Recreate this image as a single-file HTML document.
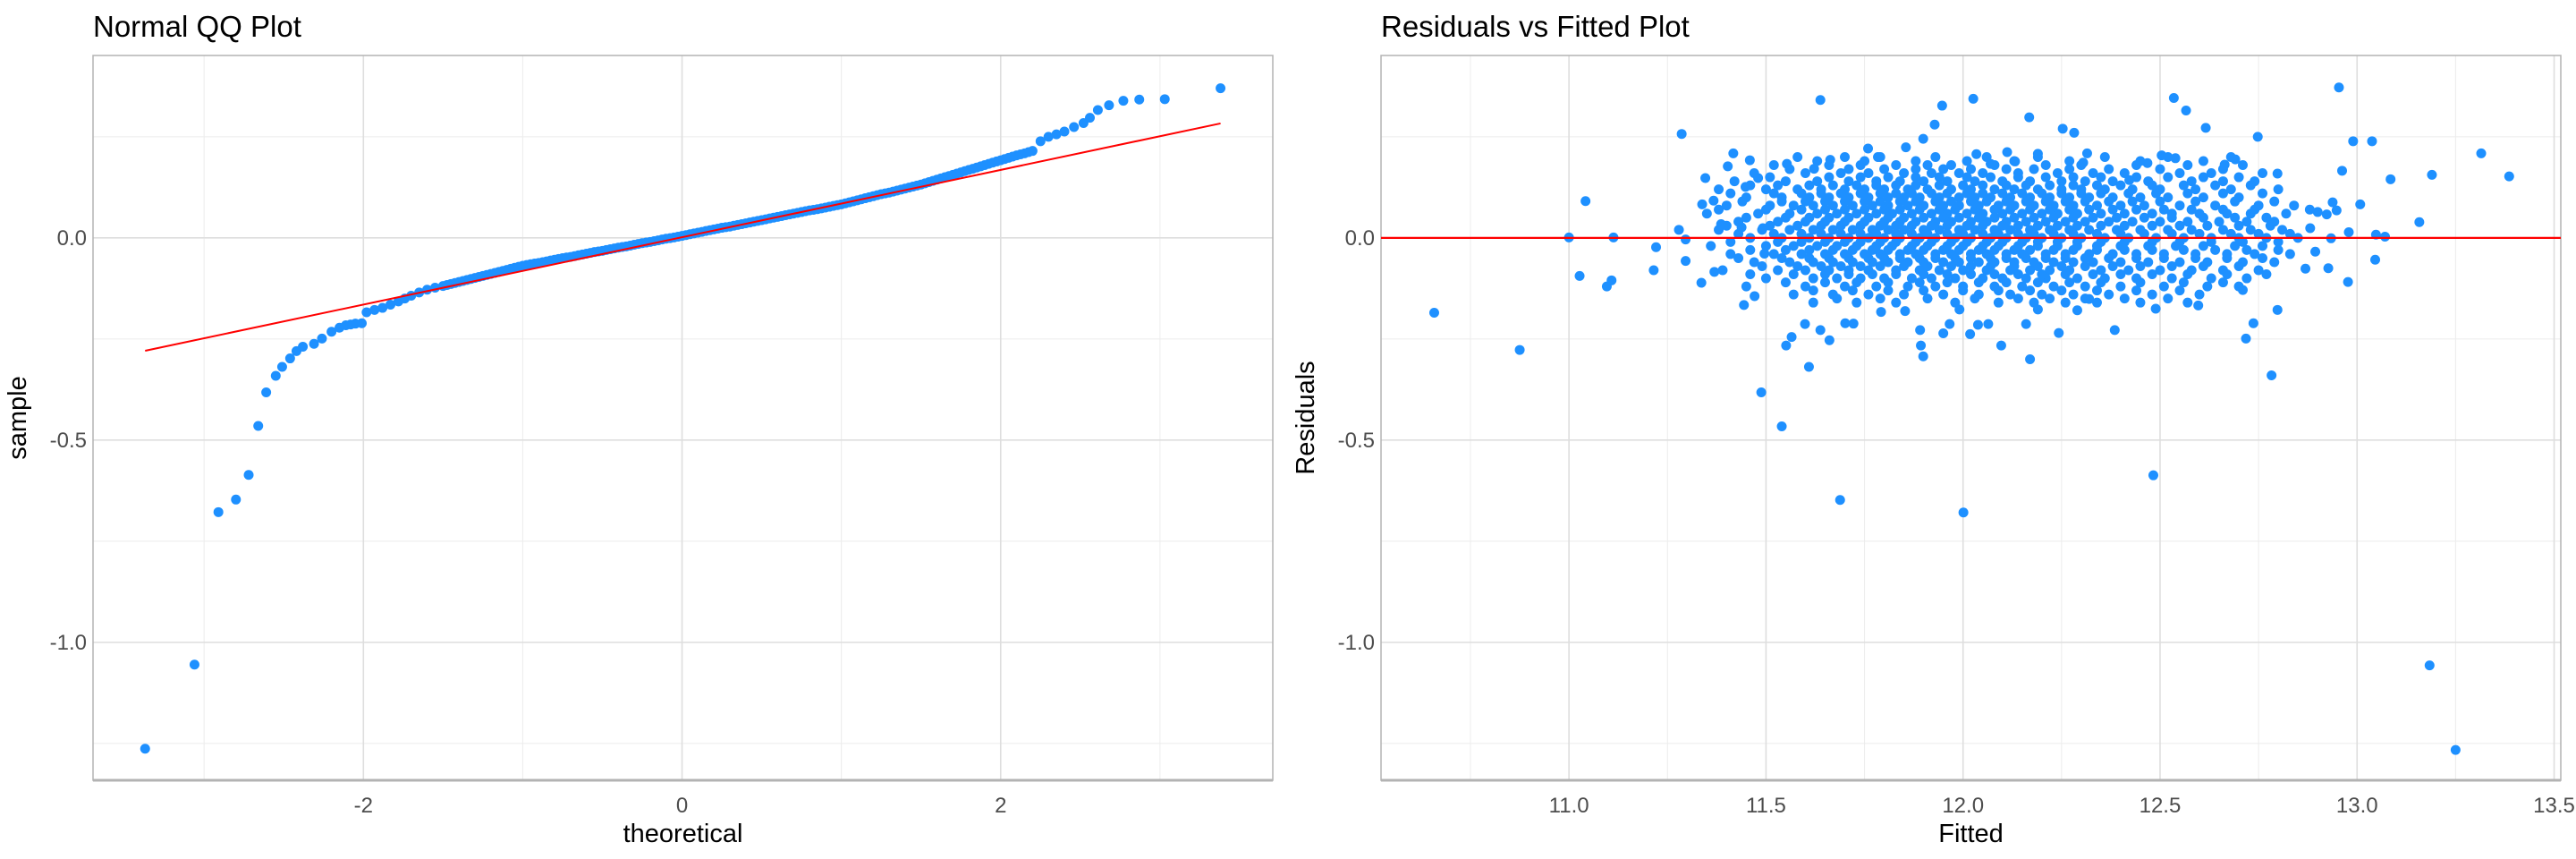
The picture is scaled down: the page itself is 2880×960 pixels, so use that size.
<!DOCTYPE html>
<html><head><meta charset="utf-8"><style>
html,body{margin:0;padding:0;background:#fff;}
svg{display:block;font-family:"Liberation Sans",sans-serif;}
</style></head><body>
<svg id="chart" width="2880" height="960" viewBox="0 0 2880 960" xmlns="http://www.w3.org/2000/svg">
<g id="left"></g>
<g id="right"></g>
</svg>
<script>
// ---- QQ data ----
const qqTheoretical = [-3.37,-3.06,-2.91,-2.80,-2.72,-2.66,-2.61,-2.55,-2.51,-2.46,-2.42,-2.38,-2.31,-2.26,-2.20,-2.15,-2.11,-2.08,-2.05,-2.01,-1.98,-1.93,-1.88,-1.83,-1.78,-1.74,-1.70,-1.65,-1.60,-1.55,
-1.50,-1.45,-1.40,-1.35,-1.30,-1.25,-1.20,-1.15,-1.10,-1.05,-1.00,-0.95,-0.90,-0.85,-0.80,-0.75,-0.70,-0.65,-0.60,-0.55,-0.50,-0.45,-0.40,-0.35,-0.30,-0.25,-0.20,-0.15,-0.10,-0.05,
0.00,0.05,0.10,0.15,0.20,0.25,0.30,0.35,0.40,0.45,0.50,0.55,0.60,0.65,0.70,0.75,0.80,0.85,0.90,0.95,1.00,1.05,1.10,1.15,1.20,1.25,1.30,1.35,1.40,1.45,1.50,1.55,1.60,1.65,1.70,1.75,1.80,1.85,1.90,1.95,2.00,2.05,2.10,2.15,2.20,
2.25,2.30,2.35,2.40,2.46,2.52,2.56,2.61,2.68,2.77,2.87,3.03,3.38];
const qqSample = [-1.263,-1.055,-0.678,-0.647,-0.586,-0.465,-0.382,-0.341,-0.319,-0.298,-0.280,-0.269,-0.262,-0.249,-0.232,-0.222,-0.216,-0.214,-0.212,-0.211,-0.184,-0.178,-0.173,-0.165,-0.157,-0.150,-0.143,-0.135,-0.128,-0.123,
-0.119,-0.114,-0.109,-0.104,-0.099,-0.094,-0.089,-0.084,-0.079,-0.074,-0.069,-0.065,-0.062,-0.058,-0.054,-0.050,-0.047,-0.043,-0.039,-0.035,-0.032,-0.028,-0.024,-0.021,-0.017,-0.013,-0.010,-0.006,-0.002,0.001,
0.005,0.009,0.013,0.017,0.021,0.025,0.028,0.032,0.036,0.040,0.044,0.048,0.052,0.056,0.060,0.064,0.068,0.071,0.075,0.079,0.083,0.088,0.093,0.098,0.103,0.108,0.112,0.117,0.122,0.127,0.132,0.138,0.144,0.150,0.156,0.162,0.168,0.174,0.180,0.186,0.192,0.198,0.204,0.209,0.215,
0.239,0.250,0.256,0.263,0.274,0.284,0.297,0.316,0.328,0.339,0.342,0.343,0.370];
const qqTheoreticalMid = [-1.475,-1.425,-1.375,-1.325,-1.275,-1.225,-1.175,-1.125,-1.075,-1.025,-0.975,-0.925,-0.875,-0.825,-0.775,-0.725,-0.675,-0.625,-0.575,-0.525,-0.475,-0.425,-0.375,-0.325,-0.275,-0.225,-0.175,-0.125,-0.075,-0.025,
0.025,0.075,0.125,0.175,0.225,0.275,0.325,0.375,0.425,0.475,0.525,0.575,0.625,0.675,0.725,0.775,0.825,0.875,0.925,0.975,1.025,1.075,1.125,1.175,1.225,1.275,1.325,1.375,1.425,1.475,1.525,1.575,1.625,1.675,1.725,1.775,1.825,1.875,1.925,1.975,2.025,2.075,2.125,2.175];
const qqSampleMid = [-0.1165,-0.1115,-0.1065,-0.1015,-0.0965,-0.0915,-0.0865,-0.0815,-0.0765,-0.0715,-0.067,-0.0635,-0.060,-0.056,-0.052,-0.0485,-0.045,-0.041,-0.037,-0.0335,-0.030,-0.026,-0.0225,-0.019,-0.015,-0.0115,-0.008,-0.004,-0.0005,0.003,
0.007,0.011,0.015,0.019,0.023,0.0265,0.030,0.034,0.038,0.042,0.046,0.050,0.054,0.058,0.062,0.066,0.0695,0.073,0.077,0.081,0.0855,0.0905,0.0955,0.1005,0.1055,0.110,0.1145,0.1195,0.1245,0.1295,0.135,0.141,0.147,0.153,0.159,0.165,0.171,0.177,0.183,0.189,0.195,0.201,0.2065,0.212];
const qqLineX = [-3.37, 3.38];
const qqLineY = [-0.279, 0.283];
const qqXTicks = [-2, 0, 2];
const qqXTickLabels = ["-2", "0", "2"];
const yTicks = [0, -0.5, -1.0];
const yTickLabels = ["0.0", "-0.5", "-1.0"];

// ---- Residuals data ----
const rvfFitted = [10.658,10.875,11.000,11.027,11.042,11.096,11.108,11.113,11.215,11.221,11.279,11.286,11.296,11.296,11.336,11.338,11.346,11.367,11.369,11.386,11.403,11.417,11.438,11.444,11.448,11.459,11.471,11.480,11.488,11.492,11.496,11.540,11.551,11.553,11.565,11.599,11.609,11.622,11.638,11.638,11.661,11.663,11.688,11.701,11.722,11.759,11.784,11.792,11.855,11.853,11.891,11.893,11.899,11.899,11.928,11.947,11.950,11.966,11.991,12.001,12.018,12.026,12.034,12.038,12.064,12.070,12.097,12.112,12.132,12.160,12.168,12.170,12.190,12.190,12.243,12.253,12.282,12.290,12.305,12.315,12.320,12.385,12.422,12.468,12.483,12.489,12.504,12.535,12.539,12.566,12.597,12.616,12.664,12.691,12.710,12.718,12.737,12.748,12.783,12.798,12.798,12.869,12.881,12.894,12.900,12.923,12.927,12.934,12.938,12.948,12.954,12.962,12.977,12.979,12.990,13.008,13.038,13.046,13.048,13.071,13.085,13.158,13.184,13.190,13.250,13.315,13.386];
const rvfResid = [-0.185,-0.277,0.001,-0.094,0.091,-0.120,-0.105,0.001,-0.080,-0.023,0.020,0.257,-0.004,-0.057,-0.111,0.083,0.148,0.092,-0.084,0.034,0.177,0.209,0.026,-0.166,0.126,0.192,-0.144,0.148,-0.382,0.024,-0.039,-0.466,-0.266,0.183,-0.245,-0.213,-0.319,0.171,0.341,-0.228,-0.253,0.193,-0.648,-0.211,-0.212,0.221,0.200,-0.183,0.224,-0.181,-0.228,-0.266,-0.293,0.245,0.280,0.327,-0.236,-0.213,-0.177,-0.679,-0.238,0.344,0.207,-0.215,-0.213,0.183,-0.266,0.212,0.189,-0.213,0.298,-0.300,0.208,-0.177,-0.235,0.270,0.260,-0.179,0.186,0.209,-0.151,-0.228,0.143,0.185,-0.587,-0.175,0.204,0.346,0.197,0.315,-0.167,0.272,0.181,0.194,-0.129,-0.249,-0.211,0.250,-0.340,-0.178,0.159,-0.076,0.024,-0.034,0.064,0.058,-0.075,-0.001,0.088,0.068,0.372,0.166,-0.109,0.014,0.239,0.083,0.239,-0.054,0.008,0.003,0.145,0.039,-1.057,0.156,-1.266,0.209,0.152];
const cloudResid = [0.20,0.18,0.16,0.14,0.12,0.10,0.08,0.06,0.04,0.02,0.00,-0.02,-0.04,-0.06,-0.08,-0.10,-0.12,-0.14,-0.16];
const cloudFitted = [
[11.58,11.70,11.79,11.93,12.06,12.19,12.36,12.52,12.68],
[11.52,11.66,11.74,11.83,11.91,11.97,12.08,12.21,12.30,12.44,12.57,12.71],
[11.47,11.60,11.69,11.76,11.85,11.92,11.99,12.05,12.14,12.24,12.33,12.41,12.55,12.63,12.76],
[11.42,11.55,11.63,11.71,11.78,11.84,11.90,11.96,12.03,12.10,12.17,12.25,12.31,12.38,12.47,12.58,12.66,12.74],
[11.38,11.50,11.58,11.64,11.70,11.75,11.80,11.86,11.91,11.97,12.02,12.08,12.13,12.19,12.25,12.30,12.36,12.43,12.50,12.59,12.68,12.80],
[11.45,11.54,11.61,11.66,11.71,11.76,11.81,11.85,11.89,11.94,11.99,12.03,12.07,12.12,12.17,12.22,12.27,12.32,12.38,12.45,12.52,12.61,12.70],
[11.40,11.51,11.57,11.62,11.67,11.72,11.77,11.81,11.86,11.90,11.95,11.99,12.04,12.09,12.13,12.18,12.23,12.28,12.34,12.40,12.46,12.55,12.64,12.75,12.84],
[11.35,11.48,11.56,11.63,11.68,11.73,11.78,11.82,11.87,11.92,11.96,12.01,12.05,12.10,12.15,12.20,12.24,12.29,12.35,12.41,12.48,12.53,12.60,12.67,12.73,12.82],
[11.43,11.53,11.60,11.65,11.70,11.75,11.80,11.84,11.88,11.93,11.97,12.02,12.06,12.11,12.16,12.21,12.26,12.31,12.37,12.43,12.50,12.57,12.65,12.72,12.79],
[11.38,11.49,11.56,11.62,11.67,11.72,11.77,11.81,11.85,11.90,11.94,11.99,12.03,12.08,12.12,12.17,12.22,12.27,12.32,12.39,12.45,12.52,12.58,12.66,12.73,12.81],
[11.46,11.54,11.61,11.66,11.71,11.76,11.80,11.84,11.89,11.93,11.98,12.02,12.07,12.11,12.16,12.20,12.25,12.30,12.36,12.42,12.49,12.56,12.63,12.70,12.77,12.85],
[11.36,11.50,11.57,11.63,11.68,11.73,11.78,11.82,11.87,11.91,11.96,12.00,12.05,12.09,12.14,12.19,12.24,12.29,12.34,12.40,12.47,12.54,12.61,12.69,12.76],
[11.41,11.52,11.59,11.65,11.70,11.75,11.79,11.84,11.88,11.93,11.97,12.02,12.06,12.11,12.15,12.21,12.26,12.32,12.38,12.44,12.51,12.59,12.67,12.74,12.83],
[11.47,11.56,11.62,11.67,11.72,11.77,11.81,11.86,11.90,11.95,11.99,12.04,12.08,12.13,12.18,12.23,12.28,12.33,12.40,12.47,12.55,12.62,12.71,12.79],
[11.39,11.53,11.60,11.66,11.71,11.76,11.83,11.89,11.94,12.00,12.06,12.12,12.17,12.22,12.27,12.35,12.42,12.50,12.58,12.66,12.75],
[11.50,11.62,11.68,11.74,11.80,11.87,11.92,11.98,12.05,12.10,12.16,12.21,12.29,12.36,12.44,12.53,12.63,12.72],
[11.45,11.60,11.70,11.78,11.86,11.93,12.00,12.08,12.15,12.23,12.31,12.40,12.51,12.62,12.70],
[11.57,11.67,11.76,11.85,11.95,12.04,12.12,12.20,12.28,12.37,12.48,12.60],
[11.62,11.73,11.83,11.98,12.09,12.18,12.26,12.34,12.45,12.57]];
const cloudResid2 = [0.19,0.17,0.15,0.13,0.11,0.09,0.07,0.05,0.03,0.01,-0.01,-0.03,-0.05,-0.07,-0.09,-0.11,-0.13,-0.15];
const cloudFitted2 = [
[11.63,11.75,11.88,12.01,12.13,12.27,12.45,12.61],
[11.56,11.71,11.80,11.88,11.95,12.02,12.11,12.18,12.27,12.37,12.50,12.66],
[11.51,11.66,11.74,11.81,11.88,11.94,12.01,12.07,12.14,12.21,12.28,12.35,12.44,12.52,12.61,12.70],
[11.46,11.53,11.61,11.67,11.73,11.78,11.83,11.88,11.94,12.00,12.05,12.11,12.16,12.22,12.28,12.34,12.40,12.48,12.56,12.64,12.73],
[11.41,11.52,11.59,11.64,11.69,11.74,11.79,11.83,11.87,11.92,11.96,12.01,12.05,12.10,12.15,12.20,12.25,12.30,12.35,12.42,12.49,12.57,12.66,12.76],
[11.44,11.54,11.60,11.65,11.70,11.75,11.79,11.84,11.88,11.93,11.97,12.02,12.06,12.11,12.16,12.21,12.26,12.31,12.37,12.43,12.50,12.59,12.69,12.79],
[11.38,11.50,11.59,11.65,11.70,11.75,11.80,11.84,11.89,11.94,11.98,12.03,12.08,12.12,12.17,12.22,12.27,12.32,12.38,12.44,12.51,12.58,12.66,12.74,12.88],
[11.45,11.55,11.61,11.66,11.71,11.76,11.81,11.85,11.90,11.95,11.99,12.04,12.08,12.13,12.18,12.23,12.28,12.33,12.39,12.46,12.53,12.61,12.69,12.77],
[11.40,11.51,11.58,11.64,11.69,11.74,11.79,11.83,11.87,11.92,11.96,12.01,12.05,12.10,12.14,12.19,12.24,12.29,12.35,12.41,12.48,12.55,12.62,12.70,12.78],
[11.43,11.52,11.59,11.64,11.69,11.74,11.78,11.83,11.87,11.91,11.96,12.00,12.05,12.09,12.14,12.18,12.23,12.28,12.34,12.40,12.46,12.53,12.60,12.68,12.75,12.83],
[11.41,11.53,11.59,11.65,11.70,11.74,11.79,11.83,11.88,11.92,11.97,12.01,12.06,12.10,12.15,12.19,12.24,12.29,12.35,12.41,12.48,12.55,12.63,12.71,12.80],
[11.46,11.55,11.61,11.67,11.72,11.77,11.81,11.86,11.90,11.95,11.99,12.04,12.08,12.13,12.17,12.23,12.28,12.34,12.41,12.48,12.56,12.64,12.72,12.80],
[11.43,11.54,11.61,11.66,11.71,11.76,11.80,11.84,11.89,11.93,11.98,12.02,12.07,12.11,12.16,12.21,12.26,12.31,12.37,12.44,12.51,12.59,12.67,12.76],
[11.49,11.58,11.64,11.69,11.74,11.79,11.85,11.91,11.97,12.02,12.07,12.13,12.19,12.25,12.31,12.38,12.45,12.53,12.61,12.70],
[11.46,11.57,11.65,11.71,11.77,11.83,11.90,11.96,12.02,12.08,12.14,12.20,12.26,12.33,12.40,12.48,12.57,12.67,12.77],
[11.55,11.65,11.73,11.81,11.89,11.96,12.04,12.11,12.19,12.27,12.35,12.45,12.56,12.66],
[11.62,11.72,11.81,11.90,12.00,12.09,12.17,12.25,12.34,12.44,12.55],
[11.68,11.79,11.91,12.03,12.14,12.22,12.31,12.41,12.52]];
const rvfXTicks = [11.0, 11.5, 12.0, 12.5, 13.0, 13.5];
const rvfXTickLabels = ["11.0", "11.5", "12.0", "12.5", "13.0", "13.5"];

const NS = "http://www.w3.org/2000/svg";
const DOT_R = 5.5;
function mk(parent, tag, attrs, text) {
  const e = document.createElementNS(NS, tag);
  for (const k in attrs) e.setAttribute(k, attrs[k]);
  if (text !== undefined) e.textContent = text;
  parent.appendChild(e);
  return e;
}
const TOP = 62, BOT = 872;
const yMin = -1.341, yMax = 0.451;
const yScale = v => BOT - (v - yMin) / (yMax - yMin) * (BOT - TOP);

function panel(g, L, R, xMin, xMax, majors, majorLabels, minors, title, xTitle, yTitle) {
  const xs = v => L + (v - xMin) / (xMax - xMin) * (R - L);
  const grid = mk(g, 'g', {});
  
  
  [0.25, -0.25, -0.75, -1.25].forEach(v => mk(grid, 'line', {x1: L, x2: R, y1: yScale(v), y2: yScale(v), stroke: '#ececec', 'stroke-width': 1}));
  minors.forEach(v => mk(grid, 'line', {x1: xs(v), x2: xs(v), y1: TOP, y2: BOT, stroke: '#ececec', 'stroke-width': 1}));
  yTicks.forEach(v => mk(grid, 'line', {x1: L, x2: R, y1: yScale(v), y2: yScale(v), stroke: '#dedede', 'stroke-width': 1.6}));
  majors.forEach(v => mk(grid, 'line', {x1: xs(v), x2: xs(v), y1: TOP, y2: BOT, stroke: '#dedede', 'stroke-width': 1.6}));
  const border = mk(g, 'rect', {x: L, y: TOP, width: R - L, height: BOT - TOP, fill: 'none', stroke: '#b3b3b3', 'stroke-width': 1.5});
  
  
  mk(g, 'line', {x1: L, x2: R, y1: BOT, y2: BOT, stroke: '#b3b3b3', 'stroke-width': 3});
  yTicks.forEach((v, i) => {
    const t = mk(g, 'text', {x: L - 7, y: yScale(v) + 8, 'text-anchor': 'end', 'font-size': 24, fill: '#4d4d4d'}, yTickLabels[i]);
    
    
  });
  majors.forEach((v, i) => {
    const t = mk(g, 'text', {x: xs(v), y: 908, 'text-anchor': 'middle', 'font-size': 24, fill: '#4d4d4d'}, majorLabels[i]);
    
    
  });
  const tt = mk(g, 'text', {x: L, y: 41, 'font-size': 33, fill: '#000'}, title);
  
  
  const xt = mk(g, 'text', {x: (L + R) / 2, y: 941, 'text-anchor': 'middle', 'font-size': 29, fill: '#000'}, xTitle);
  
  
  const cy = (TOP + BOT) / 2;
  const yt = mk(g, 'text', {x: L - 75, y: cy, 'text-anchor': 'middle', 'font-size': 29, fill: '#000', transform: `rotate(-90 ${L - 75} ${cy})`}, yTitle);
  
  
  return xs;
}

// Left panel
const gl = document.getElementById('left');
const lL = 104, lR = 1423;
const xsL = panel(gl, lL, lR, -3.697, 3.708, qqXTicks, qqXTickLabels, [-3, -1, 1, 3], 'Normal QQ Plot', 'theoretical', 'sample');
const qqPts = mk(gl, 'g', {fill: '#1e90ff'});


qqTheoretical.forEach((t, i) => {
  const c = mk(qqPts, 'circle', {cx: xsL(t), cy: yScale(qqSample[i]), r: DOT_R});
  
  
});
qqTheoreticalMid.forEach((t, i) => {
  const c = mk(qqPts, 'circle', {cx: xsL(t), cy: yScale(qqSampleMid[i]), r: DOT_R});
  
  
});
const ql = mk(gl, 'line', {x1: xsL(qqLineX[0]), y1: yScale(qqLineY[0]), x2: xsL(qqLineX[1]), y2: yScale(qqLineY[1]), stroke: '#ff0000', 'stroke-width': 2});



// Right panel
const gr = document.getElementById('right');
const rL = 1544, rR = 2863;
const xsR = panel(gr, rL, rR, 10.523, 13.517, rvfXTicks, rvfXTickLabels, [10.75, 11.25, 11.75, 12.25, 12.75, 13.25], 'Residuals vs Fitted Plot', 'Fitted', 'Residuals');
const rPts = mk(gr, 'g', {fill: '#1e90ff'});


cloudResid.forEach((r, i) => {
  cloudFitted[i].forEach(f => {
    const c = mk(rPts, 'circle', {cx: xsR(f), cy: yScale(r), r: DOT_R});
    
    
  });
});
cloudResid2.forEach((r, i) => {
  cloudFitted2[i].forEach(f => {
    const c = mk(rPts, 'circle', {cx: xsR(f), cy: yScale(r), r: DOT_R});
    
    
  });
});
rvfFitted.forEach((f, i) => {
  const c = mk(rPts, 'circle', {cx: xsR(f), cy: yScale(rvfResid[i]), r: DOT_R});
  
  
});
const zl = mk(gr, 'line', {x1: rL, x2: rR, y1: yScale(0), y2: yScale(0), stroke: '#ff0000', 'stroke-width': 2.2});


</script>
</body></html>
